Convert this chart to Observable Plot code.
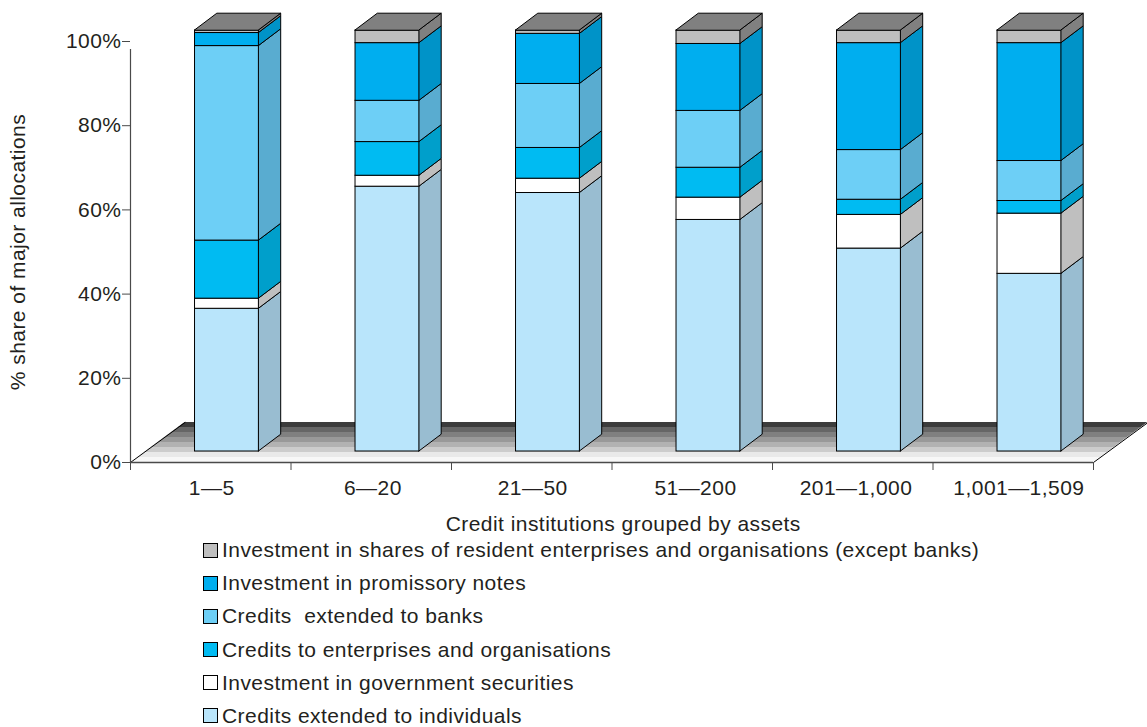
<!DOCTYPE html>
<html><head><meta charset="utf-8">
<script src="https://cdn.jsdelivr.net/npm/d3@7"></script>
<script src="https://cdn.jsdelivr.net/npm/@observablehq/plot@0.6"></script>
<style>
html,body{margin:0;padding:0;background:#fff;overflow:hidden}
body{font-family:"Liberation Sans",Arial,sans-serif;color:#231f20;width:1147px;height:727px}
#legend{margin-left:203px;padding-top:5px;display:flex;flex-direction:column;gap:11.2px}
.row{height:22px;display:flex;align-items:center;font-size:21px;letter-spacing:.45px;white-space:pre}
.sw{width:13px;height:13px;border:1px solid #000;margin-right:4px;flex:none;box-sizing:content-box}
</style></head><body>
<div id="chart"></div><div id="legend"></div>
<script>
const groups = ["1—5","6—20","21—50","51—200","201—1,000","1,001—1,509"];
const labelCentres = [0.506,1.51,2.506,3.52,4.52,5.535];
// cumulative top of each layer, bottom to top, in % of major allocations
const individuals = [33.9,62.9,61.4,55.0,48.2,42.2];
const government  = [36.3,65.5,64.8,60.3,56.2,56.5];
const enterprises = [50.1,73.5,72.1,67.4,59.8,59.5];
const banks       = [96.3,83.3,87.3,80.9,71.6,69.0];
const promissory  = [99.4,97.0,99.2,96.8,97.0,97.0];
const shares      = [100,100,100,100,100,100];
const layers = [
  {name:"Credits extended to individuals", tops:individuals, front:"#b9e5fb", side:"#99bdd1"},
  {name:"Investment in government securities", tops:government, front:"#ffffff", side:"#bfbfbf"},
  {name:"Credits to enterprises and organisations", tops:enterprises, front:"#00bbf2", side:"#009fcb"},
  {name:"Credits  extended to banks", tops:banks, front:"#6dcff6", side:"#59acd0"},
  {name:"Investment in promissory notes", tops:promissory, front:"#00aeef", side:"#0093c8"},
  {name:"Investment in shares of resident enterprises and organisations (except banks)", tops:shares, front:"#bfbfbf", side:"#808080"}
];
const floorGreys = ["#f7f7f7","#e9e9e9","#cccccc","#b2b2b2","#999999","#808080","#666666","#3c3c3c"];
const W=1147, H=534, L=130, R=1093, T=41, B=462;
const xu=(R-L)/6, yu=(B-T)/100;
const barL=0.402, barR=0.8, dX=22.3/xu, dY=16.8/yu, lift=11/yu;
const floorX=54.5/xu, floorY=40/yu;

const fronts=[], sides=[], tops=[];
groups.forEach((g,i)=>{
  let lo=0;
  layers.forEach((l,j)=>{
    const hi=l.tops[i];
    fronts.push({x1:i+barL,x2:i+barR,y1:lo+lift,y2:hi+lift,fill:l.front});
    const id=i+"-"+j;
    sides.push({id,fill:l.side,x:i+barR,lo:lo+lift,hi:hi+lift});
    sides.push({id,fill:l.side,x:i+barR+dX,lo:lo+lift+dY,hi:hi+lift+dY});
    lo=hi;
  });
  const t=lo+lift;
  tops.push({id:i,x1:i+barL,x2:i+barR,y:t});
  tops.push({id:i,x1:i+barL+dX,x2:i+barR+dX,y:t+dY});
});
const floor=[];
floorGreys.forEach((c,k)=>{
  const a=k/floorGreys.length,b=(k+1)/floorGreys.length;
  floor.push({id:k,fill:c,x1:a*floorX,x2:6+a*floorX,y:a*floorY});
  floor.push({id:k,fill:c,x1:b*floorX,x2:6+b*floorX,y:b*floorY});
});
const edges=[{id:"l",x:0,y:0},{id:"l",x:floorX,y:floorY},{id:"r",x:6,y:0},{id:"r",x:6+floorX,y:floorY}];
const ink="#231f20", axisInk="#4a4a4a";
const plot=Plot.plot({
  width:W,height:H,marginLeft:L,marginRight:W-R,marginTop:T,marginBottom:H-B,
  style:{fontFamily:'"Liberation Sans",Arial,sans-serif',fontSize:"21px",letterSpacing:".45px",color:ink,overflow:"visible",background:"transparent"},
  x:{domain:[0,6],axis:null},
  y:{domain:[0,100],axis:null},
  color:{type:"identity"},
  marks:[
    Plot.area(floor,{x1:"x1",x2:"x2",y1:"y",y2:"y",z:"id",fill:"fill"}),
    Plot.line(edges,{x:"x",y:"y",z:"id",stroke:"#000",strokeWidth:1}),
    Plot.axisY({ticks:[0,20,40,60,80,100],tickFormat:d=>d+"%",tickSize:8,tickPadding:1,fontSize:21,stroke:axisInk,
      label:"% share of major allocations",labelAnchor:"center",labelArrow:"none",labelOffset:120}),
    Plot.ruleX([0],{y1:0,y2:100,stroke:axisInk,strokeWidth:1.2,insetBottom:-8}),
    Plot.ruleY([0],{x1:0,x2:6,stroke:axisInk,strokeWidth:1.6}),
    Plot.axisX({ticks:[0,1,2,3,4,5,6],tickFormat:null,tickSize:8,stroke:axisInk,text:null}),
    Plot.axisX({ticks:labelCentres,tickFormat:d=>groups[labelCentres.indexOf(d)],tickSize:0,tickPadding:18,fontSize:21,label:null}),
    Plot.text(["Credit institutions grouped by assets"],{x:3.07,y:0,dy:62,fontSize:21,fill:ink}),
    Plot.area(sides,{x1:"x",y1:"lo",y2:"hi",z:"id",fill:"fill",stroke:"#000",strokeWidth:1,strokeLinejoin:"round"}),
    Plot.rect(fronts,{x1:"x1",x2:"x2",y1:"y1",y2:"y2",fill:"fill",stroke:"#000",strokeWidth:1}),
    Plot.area(tops,{x1:"x1",x2:"x2",y1:"y",y2:"y",z:"id",fill:"#808080",stroke:"#000",strokeWidth:1})
  ]
});
document.getElementById("chart").appendChild(plot);
const lg=document.getElementById("legend");
[...layers].reverse().forEach(l=>{
  const r=document.createElement("div");r.className="row";
  const s=document.createElement("span");s.className="sw";s.style.background=l.front;
  const t=document.createElement("span");t.textContent=l.name;
  r.append(s,t);lg.append(r);
});
</script></body></html>
